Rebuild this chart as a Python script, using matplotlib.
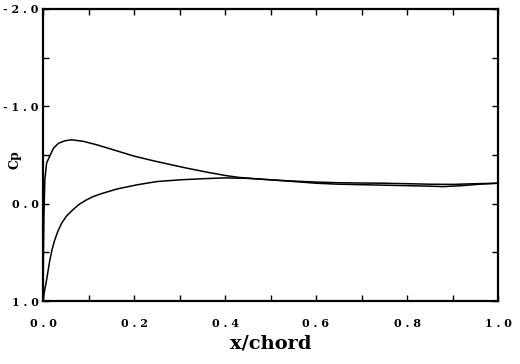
import matplotlib
matplotlib.use("Agg")
import matplotlib.pyplot as plt
from matplotlib.ticker import MultipleLocator, FixedLocator

# upper surface (suction side)
x_upper = [0, 0.001, 0.002, 0.004, 0.008, 0.015, 0.023, 0.034, 0.048, 0.063,
           0.089, 0.118, 0.155, 0.199, 0.243, 0.272, 0.316, 0.36, 0.4, 0.43,
           0.47, 0.5, 0.55, 0.6, 0.65, 0.7, 0.75, 0.8, 0.85, 0.9, 0.95, 1.0]
cp_upper = [1.0, 0.5, 0.15, -0.245, -0.42, -0.49, -0.57, -0.62, -0.646, -0.656,
            -0.64, -0.605, -0.553, -0.49, -0.44, -0.41, -0.365, -0.324, -0.29,
            -0.27, -0.255, -0.245, -0.232, -0.222, -0.215, -0.212, -0.21, -0.205,
            -0.2, -0.198, -0.205, -0.21]

# lower surface (pressure side)
x_lower = [0, 0.001, 0.004, 0.008, 0.015, 0.02, 0.026, 0.033, 0.041, 0.052,
           0.067, 0.08, 0.096, 0.11, 0.125, 0.162, 0.206, 0.25, 0.301, 0.36,
           0.4, 0.45, 0.5, 0.55, 0.6, 0.65, 0.7, 0.75, 0.8, 0.85, 0.88, 0.92,
           0.96, 1.0]
cp_lower = [1.0, 0.97, 0.88, 0.78, 0.58, 0.47, 0.37, 0.28, 0.2, 0.125,
            0.057, 0.005, -0.04, -0.072, -0.098, -0.15, -0.193, -0.227,
            -0.245, -0.258, -0.265, -0.26, -0.245, -0.228, -0.21, -0.2, -0.195,
            -0.19, -0.185, -0.18, -0.175, -0.185, -0.2, -0.21]

x_ticks = [0.0, 0.2, 0.4, 0.6, 0.8, 1.0]
y_ticks = [-2.0, -1.0, 0.0, 1.0]


def spaced(v):
    return " ".join(f"{v:.1f}")


fig = plt.figure(figsize=(5.2, 3.64), dpi=100)
ax = fig.add_axes([43 / 520, 1 - 301 / 364, 455 / 520, 292 / 364])

ax.plot(x_upper, cp_upper, color="black", lw=1.1)
ax.plot(x_lower, cp_lower, color="black", lw=1.1)

ax.set_xlim(0, 1)
ax.set_ylim(1.0, -2.0)

for s in ax.spines.values():
    s.set_linewidth(1.6)

ax.xaxis.set_major_locator(FixedLocator(x_ticks))
ax.xaxis.set_minor_locator(MultipleLocator(0.1))
ax.yaxis.set_major_locator(FixedLocator(y_ticks))
ax.yaxis.set_minor_locator(MultipleLocator(0.5))
ax.set_xticklabels([spaced(v) for v in x_ticks])
ax.set_yticklabels([spaced(v) for v in y_ticks])

ax.tick_params(which="both", direction="in", top=True, right=True,
               length=4, width=1.0)
ax.tick_params(axis="x", pad=12)
ax.tick_params(axis="y", pad=3)
for lab in ax.get_xticklabels() + ax.get_yticklabels():
    lab.set_family("DejaVu Serif")
    lab.set_fontweight("bold")
    lab.set_fontsize(8)

ax.set_xlabel("x/chord", family="DejaVu Serif", fontweight="bold",
              fontsize=14, labelpad=4)
ax.set_ylabel("Cp", family="DejaVu Serif", fontweight="bold", fontsize=9)
ax.yaxis.set_label_coords(-0.048, 0.483)

fig.savefig("out.png", dpi=100)
